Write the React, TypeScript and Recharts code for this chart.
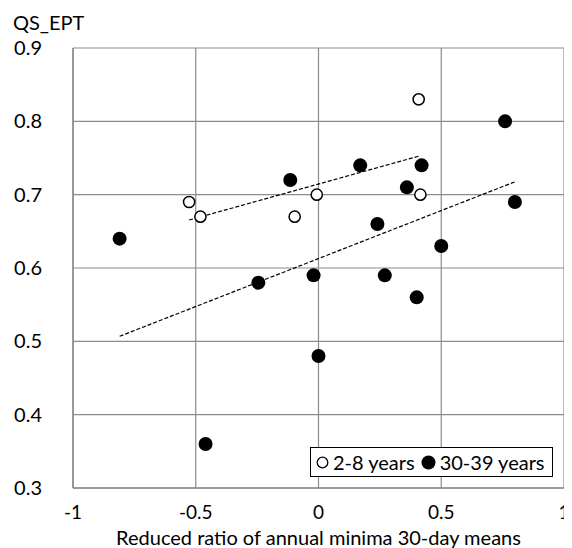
import React from 'react';
import { ScatterChart, Scatter, XAxis, YAxis, CartesianGrid } from 'recharts';

// Reduced ratio (x) vs QS_EPT (y)
const shortX = [-0.527, -0.481, -0.097, -0.007, 0.408, 0.415];
const shortY = [0.69, 0.67, 0.67, 0.70, 0.83, 0.70];

const longX = [-0.81, -0.46, -0.245, -0.115, -0.02, 0.0, 0.17, 0.24, 0.27, 0.36, 0.42, 0.40, 0.50, 0.76, 0.80];
const longY = [0.64, 0.36, 0.58, 0.72, 0.59, 0.48, 0.74, 0.66, 0.59, 0.71, 0.74, 0.56, 0.63, 0.80, 0.69];

const xTicks = [-1, -0.5, 0, 0.5, 1];
const yTicks = [0.3, 0.4, 0.5, 0.6, 0.7, 0.8, 0.9];

const FONT = 'Lato, "Open Sans", sans-serif';
const GRID = '#8c8c8c';

const toPoints = (xs: number[], ys: number[]) => xs.map((x, i) => ({ x, y: ys[i] }));

// least-squares trendline spanning the series' x range
function trend(xs: number[], ys: number[]) {
  const n = xs.length;
  const mx = xs.reduce((a, b) => a + b, 0) / n;
  const my = ys.reduce((a, b) => a + b, 0) / n;
  let sxy = 0;
  let sxx = 0;
  xs.forEach((x, i) => {
    sxy += (x - mx) * (ys[i] - my);
    sxx += (x - mx) * (x - mx);
  });
  const b = sxy / sxx;
  const a = my - b * mx;
  const x0 = Math.min(...xs);
  const x1 = Math.max(...xs);
  return [{ x: x0, y: a + b * x0 }, { x: x1, y: a + b * x1 }];
}

const OpenDot = (p: any) => (
  <circle cx={p.cx} cy={p.cy} r={5.6} fill="#fff" stroke="#000" strokeWidth={1.5} />
);
const FilledDot = (p: any) => <circle cx={p.cx} cy={p.cy} r={7} fill="#000" />;
const NoDot = () => <g />;

export default function App() {
  const shortData = toPoints(shortX, shortY);
  const longData = toPoints(longX, longY);

  return (
    <div style={{ position: 'relative', width: 564, height: 540, fontFamily: FONT }}>
      <div style={{ position: 'absolute', left: 5, top: 2, fontSize: 20, color: '#000' }}>QS_EPT</div>
      <ScatterChart width={564} height={540} margin={{ top: 40, right: 8, left: 0, bottom: 0 }}>
        <CartesianGrid stroke={GRID} strokeWidth={1.2} />
        <XAxis
          type="number"
          dataKey="x"
          domain={[-1, 1]}
          ticks={xTicks}
          height={60}
          tickSize={0}
          tickMargin={18}
          axisLine={{ stroke: GRID, strokeWidth: 1.5 }}
          tick={{ fill: '#000', fontSize: 19, fontFamily: FONT }}
          label={{
            value: 'Reduced ratio of annual minima 30-day means',
            position: 'insideBottom',
            offset: 3,
            fill: '#000',
            fontSize: 20,
            fontFamily: FONT,
          }}
        />
        <YAxis
          type="number"
          dataKey="y"
          domain={[0.3, 0.9]}
          ticks={yTicks}
          width={65}
          tickSize={0}
          tickMargin={31}
          axisLine={{ stroke: GRID, strokeWidth: 1.5 }}
          tick={{ fill: '#000', fontSize: 20, fontFamily: FONT }}
        />
        <Scatter
          data={trend(shortX, shortY)}
          line={{ stroke: '#000', strokeWidth: 1.2, strokeDasharray: '4 2' }}
          shape={NoDot}
          isAnimationActive={false}
        />
        <Scatter
          data={trend(longX, longY)}
          line={{ stroke: '#000', strokeWidth: 1.2, strokeDasharray: '4 2' }}
          shape={NoDot}
          isAnimationActive={false}
        />
        <Scatter data={shortData} shape={OpenDot} isAnimationActive={false} />
        <Scatter data={longData} shape={FilledDot} isAnimationActive={false} />
      </ScatterChart>
      <div
        style={{
          position: 'absolute',
          left: 302,
          top: 439,
          width: 243,
          height: 30,
          boxSizing: 'border-box',
          border: '1px solid #000',
          background: '#fff',
          fontSize: 20,
          display: 'flex',
          alignItems: 'center',
          paddingLeft: 5,
          whiteSpace: 'nowrap',
        }}
      >
        <svg width={13} height={13} style={{ flexShrink: 0, marginRight: 4 }}>
          <circle cx={6.5} cy={6.5} r={5.3} fill="#fff" stroke="#000" strokeWidth={1.3} />
        </svg>
        <span>2-8 years</span>
        <svg width={15} height={15} style={{ flexShrink: 0, marginLeft: 6, marginRight: 4 }}>
          <circle cx={7.5} cy={7.5} r={7} fill="#000" />
        </svg>
        <span>30-39 years</span>
      </div>
    </div>
  );
}
